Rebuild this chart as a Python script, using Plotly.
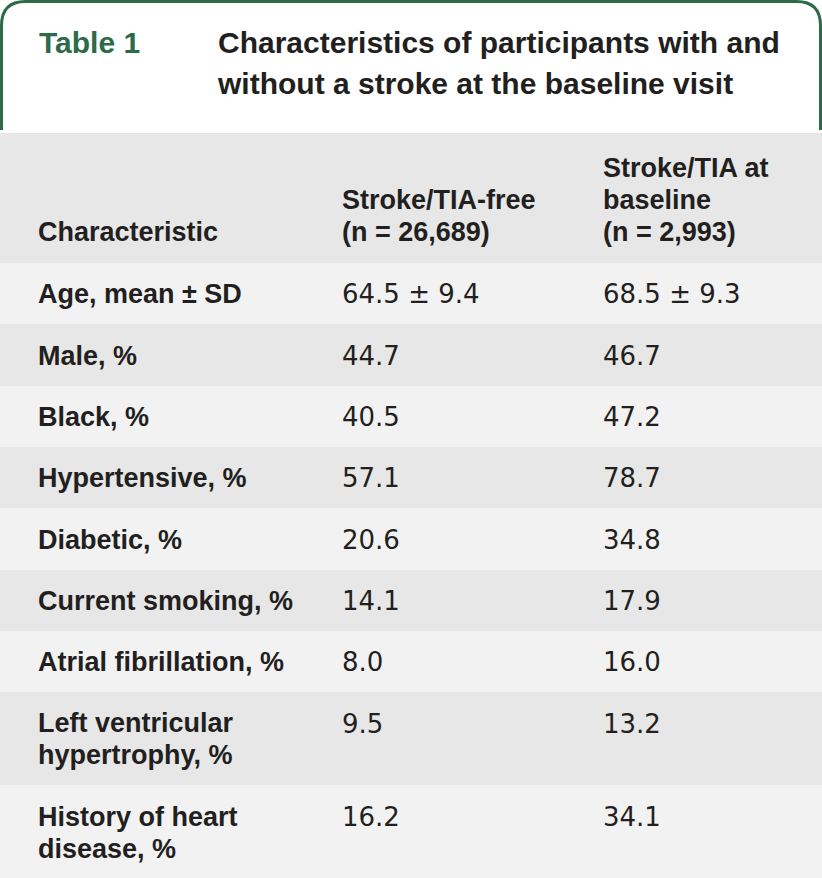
import plotly.graph_objects as go

# ---------------- data ----------------
title_tag = "Table 1"
title_lines = ["Characteristics of participants with and",
               "without a stroke at the baseline visit"]

col_headers = ["Characteristic",
               "Stroke/TIA-free<br>(n = 26,689)",
               "Stroke/TIA at<br>baseline<br>(n = 2,993)"]

characteristics = ["Age, mean ± SD", "Male, %", "Black, %", "Hypertensive, %",
                   "Diabetic, %", "Current smoking, %", "Atrial fibrillation, %",
                   "Left ventricular<br>hypertrophy, %",
                   "History of heart<br>disease, %"]
stroke_free = ["64.5 ± 9.4", "44.7", "40.5", "57.1", "20.6", "14.1", "8.0", "9.5", "16.2"]
stroke_baseline = ["68.5 ± 9.3", "46.7", "47.2", "78.7", "34.8", "17.9", "16.0", "13.2", "34.1"]

# ---------------- layout constants ----------------
W, H = 822, 878
GREEN = "#2c6a48"
INK = "#231f20"
HEAD_BG = "#e6e7e6"
ROW_LIGHT = "#f2f2f2"
ROW_DARK = "#e6e7e6"

COL_X = [38, 342, 603]
HEADER_TOP, HEADER_BOTTOM = 133, 263
HEADER_LAST_BASELINE = 244
ROW_BASE = 61.3
LINE_STEP = 32
FIRST_BASELINE = 43

LABEL_FONT = dict(family="Liberation Sans, Arial, sans-serif", size=27, color=INK, weight=700)
VALUE_FONT = dict(family="DejaVu Sans, sans-serif", size=26, color=INK)
TITLE_FONT = dict(family="Liberation Sans, Arial, sans-serif", size=30, color=INK, weight=700)
TAG_FONT = dict(family="Liberation Sans, Arial, sans-serif", size=30, color=GREEN, weight=700)


def nlines(s):
    return s.count("<br>") + 1


# ---------------- row geometry ----------------
row_tops, row_heights = [], []
top = HEADER_BOTTOM
for i in range(len(characteristics)):
    n = max(nlines(characteristics[i]), nlines(stroke_free[i]), nlines(stroke_baseline[i]))
    h = ROW_BASE + (n - 1) * LINE_STEP
    row_tops.append(top)
    row_heights.append(h)
    top += h

bar_y = [(HEADER_TOP + HEADER_BOTTOM) / 2] + [t + h / 2 for t, h in zip(row_tops, row_heights)]
bar_w = [HEADER_BOTTOM - HEADER_TOP] + row_heights
bar_c = [HEAD_BG] + [ROW_LIGHT if i % 2 == 0 else ROW_DARK for i in range(len(characteristics))]

fig = go.Figure()
fig.add_trace(go.Bar(orientation="h", y=bar_y, x=[W] * len(bar_y), base=0, width=bar_w,
                     marker=dict(color=bar_c, line=dict(width=0)), hoverinfo="skip"))


def add_text(xs, baselines, texts, font):
    ys = [b - 0.35 * font["size"] for b in baselines]
    fig.add_trace(go.Scatter(x=xs, y=ys, text=texts, mode="text",
                             textposition="middle right", textfont=font,
                             hoverinfo="skip", cliponaxis=False))


# header cells (bottom aligned)
hx, hb, ht = [], [], []
for ci, htxt in enumerate(col_headers):
    parts = htxt.split("<br>")
    for li, p in enumerate(parts):
        hx.append(COL_X[ci])
        hb.append(HEADER_LAST_BASELINE - (len(parts) - 1 - li) * LINE_STEP)
        ht.append(p)
add_text(hx, hb, ht, LABEL_FONT)

# body cells (top aligned)
lx, lb, lt = [], [], []
vx, vb, vt = [], [], []
for i in range(len(characteristics)):
    for li, p in enumerate(characteristics[i].split("<br>")):
        lx.append(COL_X[0]); lb.append(row_tops[i] + FIRST_BASELINE + li * LINE_STEP); lt.append(p)
    for ci, col in ((1, stroke_free), (2, stroke_baseline)):
        for li, p in enumerate(col[i].split("<br>")):
            vx.append(COL_X[ci]); vb.append(row_tops[i] + FIRST_BASELINE + li * LINE_STEP); vt.append(p)
add_text(lx, lb, lt, LABEL_FONT)
add_text(vx, vb, vt, VALUE_FONT)

# title
add_text([39], [56], [title_tag], TAG_FONT)
add_text([218, 218], [56, 97], title_lines, TITLE_FONT)

# green rounded header frame (open at bottom)
R = 24
b = 1.5
path = (f"M {b},130 L {b},{R + b} Q {b},{b} {R + b},{b} "
        f"L {W - b - R},{b} Q {W - b},{b} {W - b},{R + b} L {W - b},130")
fig.add_shape(type="path", path=path, xref="x", yref="y",
              line=dict(color=GREEN, width=3), layer="above")

fig.update_layout(
    width=W, height=H, margin=dict(l=0, r=0, t=0, b=0),
    paper_bgcolor="white", plot_bgcolor="white", showlegend=False,
    bargap=0, barmode="overlay", hovermode=False,
    xaxis=dict(range=[0, W], visible=False, fixedrange=True),
    yaxis=dict(range=[H, 0], visible=False, fixedrange=True),
)

fig.write_html("out.html", config={"displayModeBar": False, "staticPlot": True},
               post_script="document.body.style.margin='0';")
